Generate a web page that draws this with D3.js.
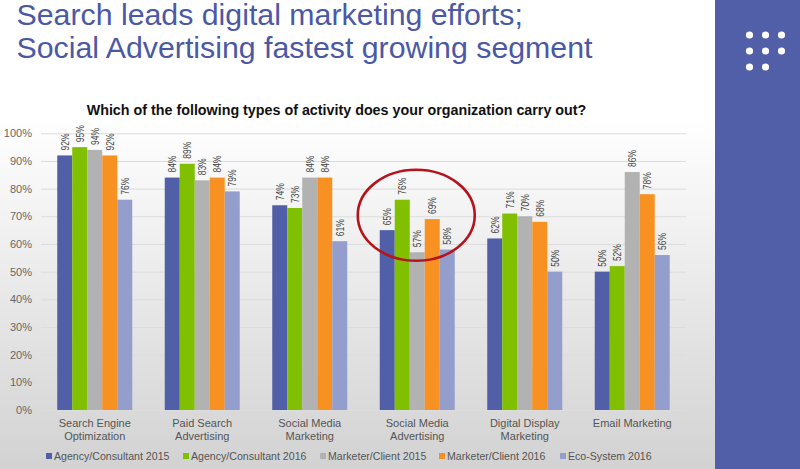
<!DOCTYPE html>
<html><head><meta charset="utf-8">
<script src="https://cdn.jsdelivr.net/npm/d3@7"></script>
<style>html,body{margin:0;padding:0;background:#fff;overflow:hidden}text{font-family:"Liberation Sans",Arial,sans-serif}</style>
</head><body><svg id="c" width="800" height="469"></svg>
<script>
const categories=[["Search Engine","Optimization"],["Paid Search","Advertising"],["Social Media","Marketing"],["Social Media","Advertising"],["Digital Display","Marketing"],["Email Marketing"]];
const seriesNames=["Agency/Consultant 2015","Agency/Consultant 2016","Marketer/Client 2015","Marketer/Client 2016","Eco-System 2016"];
const agency2015=[92,84,74,65,62,50];
const agency2016=[95,89,73,76,71,52];
const marketer2015=[94,83,84,57,70,86];
const marketer2016=[92,84,84,69,68,78];
const eco2016=[76,79,61,58,50,56];
const seriesValues=[agency2015,agency2016,marketer2015,marketer2016,eco2016];
const colors=["#505fa8","#80c000","#b2b2b2","#f79222","#949ecd"];
const yTicks=[0,10,20,30,40,50,60,70,80,90,100];
const titleLines=["Search leads digital marketing efforts;","Social Advertising fastest growing segment"];
const chartTitle="Which of the following types of activity does your organization carry out?";

const svg=d3.select("#c");
const defs=svg.append("defs");
const grad=defs.append("linearGradient").attr("id","bg").attr("x1",0).attr("y1",0).attr("x2",0).attr("y2",1);
grad.append("stop").attr("offset","0").attr("stop-color","#ffffff");
grad.append("stop").attr("offset","1").attr("stop-color","#d2d2d2");
svg.append("rect").attr("x",0).attr("y",120).attr("width",715).attr("height",349).attr("fill","url(#bg)");
svg.append("rect").attr("x",715).attr("y",0).attr("width",85).attr("height",469).attr("fill","#505fa8");

// decorative dots
const dotCols=[0,1,2],dotRows=[[0,1,2],[0,1,2],[0,1]];
dotRows.forEach((r,j)=>r.forEach(i=>svg.append("circle").attr("cx",749.5+16*dotCols[i]).attr("cy",35+16*j).attr("r",3.6).attr("fill","#fff")));

// slide title
svg.append("g").selectAll("text").data(titleLines).join("text")
 .attr("x",16.5).attr("y",(d,i)=>25+i*33).attr("font-size",30.3).attr("fill","#4b58a6").text(d=>d);
svg.append("text").attr("x",336.5).attr("y",115).attr("text-anchor","middle").attr("font-size",14.3).attr("font-weight","bold").attr("fill","#111").text(chartTitle);

const x=d3.scaleBand().domain(d3.range(categories.length)).range([41,686]);
const x1=d3.scaleBand().domain(d3.range(seriesNames.length)).range([0,75]);
const y=d3.scaleLinear().domain([0,100]).range([410,133.3]);

// gridlines and y axis
const gy=svg.append("g").attr("transform","translate(41,0)")
 .call(d3.axisLeft(y).tickValues(yTicks).tickFormat(d=>d+"%").tickSize(-645).tickPadding(9));
gy.select(".domain").remove();
gy.selectAll("line").attr("stroke","#dcdcdc").attr("stroke-width",1);
gy.selectAll("text").attr("font-size",11).attr("fill","#666");

// bars
const groups=svg.append("g").selectAll("g").data(categories).join("g")
 .attr("transform",(d,i)=>`translate(${x(i)+x.bandwidth()/2-37.5},0)`);
groups.each(function(c,ci){
 const g=d3.select(this);
 const rows=seriesValues.map((s,si)=>({si,v:s[ci]}));
 g.selectAll("rect").data(rows).join("rect")
  .attr("x",d=>x1(d.si)).attr("y",d=>y(d.v)).attr("width",x1.bandwidth()).attr("height",d=>y(0)-y(d.v))
  .attr("fill",d=>colors[d.si]);
 g.selectAll("text").data(rows).join("text")
  .attr("transform",d=>`translate(${x1(d.si)+x1.bandwidth()/2+4},${y(d.v)-5}) rotate(-90) scale(0.85,1)`)
  .attr("font-size",10).attr("fill","#444").text(d=>d.v+"%");
});

// category labels
const xa=svg.append("g").selectAll("text").data(categories).join("text")
 .attr("text-anchor","middle").attr("font-size",11).attr("fill","#555")
 .attr("transform",(d,i)=>`translate(${x(i)+x.bandwidth()/2},0)`);
xa.each(function(d){
 d3.select(this).selectAll("tspan").data(d).join("tspan").attr("x",0).attr("y",(t,i)=>427+i*12.5).text(t=>t);
});

// legend
const legendX=[46,183,320,439,560];
const lg=svg.append("g").selectAll("g").data(seriesNames).join("g").attr("transform",(d,i)=>`translate(${legendX[i]},0)`);
lg.append("rect").attr("x",0).attr("y",453).attr("width",6).attr("height",6).attr("fill",(d,i)=>colors[i]);
lg.append("text").attr("x",8).attr("y",459.5).attr("font-size",10.6).attr("fill","#555").text(d=>d);

// highlight ellipse
svg.append("ellipse").attr("cx",x(3)+x.bandwidth()/2-1).attr("cy",y(70)-1).attr("rx",58.5).attr("ry",45.5)
 .attr("fill","none").attr("stroke","#b5141c").attr("stroke-width",2.6);
</script></body></html>
